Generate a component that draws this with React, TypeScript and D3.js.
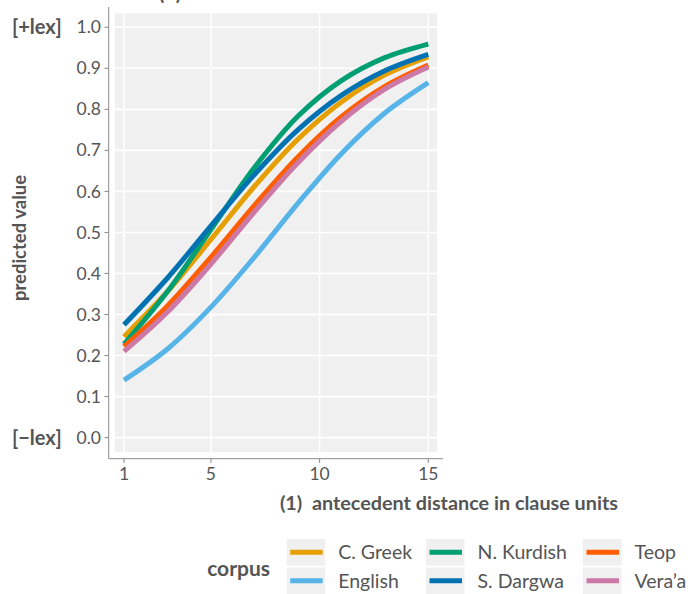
import React from "react";
import * as d3 from "d3";

const xs = [1, 3, 5, 7, 9, 11, 13, 15];
const corpora = ["C. Greek", "English", "N. Kurdish", "S. Dargwa", "Teop", "Vera’a"];
const colors = ["#E69F00", "#56B4E9", "#009E73", "#0072B2", "#FF5F00", "#CC79A7"];
const cGreek = [0.246, 0.356, 0.483, 0.612, 0.727, 0.818, 0.884, 0.928];
const english = [0.14, 0.216, 0.318, 0.44, 0.571, 0.692, 0.791, 0.865];
const nKurdish = [0.228, 0.356, 0.507, 0.658, 0.783, 0.87, 0.926, 0.959];
const sDargwa = [0.275, 0.389, 0.516, 0.641, 0.75, 0.834, 0.894, 0.934];
const teop = [0.222, 0.321, 0.44, 0.566, 0.684, 0.782, 0.856, 0.908];
const veraa = [0.21, 0.306, 0.423, 0.55, 0.67, 0.771, 0.849, 0.903];
const seriesValues = [cGreek, english, nKurdish, sDargwa, teop, veraa];
const xTicks = [1, 5, 10, 15];
const yTicks = [0, 0.1, 0.2, 0.3, 0.4, 0.5, 0.6, 0.7, 0.8, 0.9, 1.0];

const FONT = "Lato, 'Open Sans', sans-serif";
const TXT = "#555555";

export default function App() {
  const x = d3.scaleLinear().domain([0.586, 15.4]).range([115, 437]);
  const y = d3.scaleLinear().domain([-0.035, 1.034]).range([452, 13.3]);
  const line = d3
    .line<[number, number]>()
    .x((d) => x(d[0]))
    .y((d) => y(d[1]))
    .curve(d3.curveCatmullRom);

  const legendCols = [286.7, 426, 583];
  const legendRows = [539, 567.5];
  const keyW = 38.5;
  const keyH = 26.5;

  return (
    <svg width={690} height={594} style={{ position: "absolute", left: 0, top: 0 }} fontFamily={FONT}>
      <text x={170} y={-0.5} textAnchor="middle" fontSize={20} fontWeight="bold" fill={TXT}>
        (2)
      </text>
      <rect x={115} y={13.3} width={322} height={452 - 13.3} fill="#F0F0F0" />
      {yTicks.map((t) => (
        <line key={"gy" + t} x1={115} x2={437} y1={y(t)} y2={y(t)} stroke="#fff" strokeWidth={1.6} />
      ))}
      {xTicks.map((t) => (
        <line key={"gx" + t} x1={x(t)} x2={x(t)} y1={13.3} y2={452} stroke="#fff" strokeWidth={1.6} />
      ))}
      {seriesValues.map((vals, i) => (
        <path
          key={corpora[i]}
          d={line(xs.map((v, j) => [v, vals[j]]) as [number, number][]) || ""}
          fill="none"
          stroke={colors[i]}
          strokeWidth={5}
        />
      ))}
      <line x1={108.7} x2={108.7} y1={7} y2={458.7} stroke="#8a8a8a" strokeWidth={1} />
      <line x1={108.7} x2={443} y1={458.7} y2={458.7} stroke="#8a8a8a" strokeWidth={1} />
      {yTicks.map((t) => (
        <g key={"ty" + t}>
          <line x1={104.5} x2={108.7} y1={y(t)} y2={y(t)} stroke="#8a8a8a" strokeWidth={1} />
          <text x={101} y={y(t)} dy="0.35em" textAnchor="end" fontSize={17.5} fill={TXT}>
            {t.toFixed(1)}
          </text>
        </g>
      ))}
      {xTicks.map((t) => (
        <g key={"tx" + t}>
          <line x1={x(t)} x2={x(t)} y1={458.7} y2={463} stroke="#8a8a8a" strokeWidth={1} />
          <text x={x(t)} y={480} textAnchor="middle" fontSize={17.5} fill={TXT}>
            {t}
          </text>
        </g>
      ))}
      <text x={12} y={y(1)} dy="0.35em" fontSize={20} fontWeight="bold" fill={TXT}>
        [+lex]
      </text>
      <text x={12} y={y(0)} dy="0.35em" fontSize={20} fontWeight="bold" fill={TXT}>
        [−lex]
      </text>
      <text
        transform={`translate(26,238) rotate(-90)`}
        textAnchor="middle"
        fontSize={18.5}
        fontWeight="bold"
        fill={TXT}
      >
        predicted value
      </text>
      <text x={618} y={510} textAnchor="end" fontSize={19.8} fontWeight="bold" fill={TXT} xmlSpace="preserve">
        (1)  antecedent distance in clause units
      </text>
      <text x={270} y={576} textAnchor="end" fontSize={21} fontWeight="bold" fill={TXT}>
        corpus
      </text>
      {corpora.map((c, i) => {
        const col = Math.floor(i / 2);
        const row = i % 2;
        const kx = legendCols[col];
        const ky = legendRows[row];
        return (
          <g key={"lg" + c}>
            <rect x={kx} y={ky} width={keyW} height={keyH} fill="#F0F0F0" />
            <line x1={kx + 3.5} x2={kx + keyW - 2.5} y1={ky + keyH / 2} y2={ky + keyH / 2} stroke={colors[i]} strokeWidth={5} />
            <text x={kx + keyW + 13} y={ky + keyH / 2} dy="0.35em" fontSize={19.5} fill={TXT}>
              {c}
            </text>
          </g>
        );
      })}
    </svg>
  );
}
